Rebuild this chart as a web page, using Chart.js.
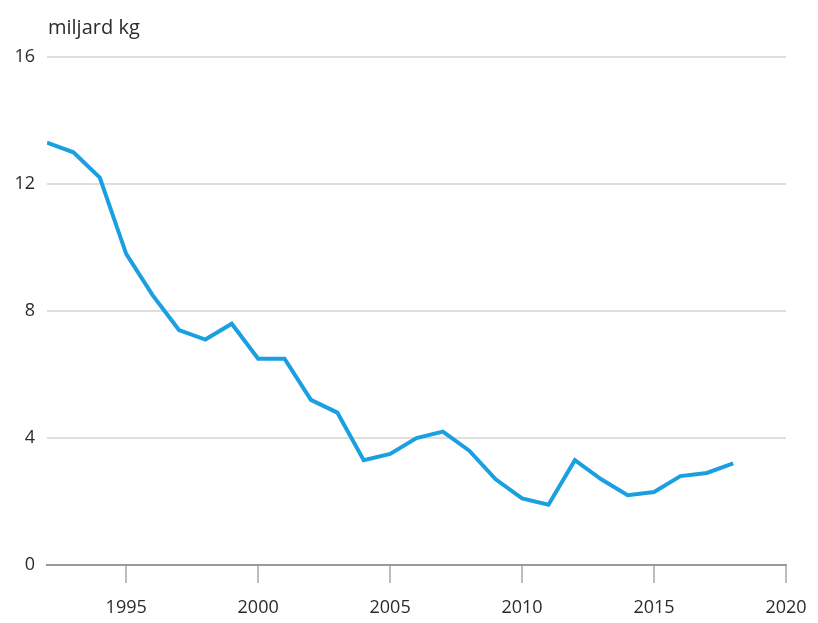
<!DOCTYPE html>
<html>
<head>
<meta charset="utf-8">
<script src="https://cdn.jsdelivr.net/npm/chart.js@4.4.1/dist/chart.umd.min.js"></script>
<style>
  html, body { margin: 0; padding: 0; background: #fff; }
  #wrap { width: 818px; height: 623px; }
</style>
</head>
<body>
<div id="wrap"><canvas id="chart"></canvas></div>
<script>
// --- DATA ---
const years = [1992, 1993, 1994, 1995, 1996, 1997, 1998, 1999, 2000, 2001, 2002, 2003, 2004,
               2005, 2006, 2007, 2008, 2009, 2010, 2011, 2012, 2013, 2014, 2015, 2016, 2017, 2018];
const values = [13.3, 13.0, 12.2, 9.8, 8.5, 7.4, 7.1, 7.6, 6.5, 6.5, 5.2, 4.8, 3.3,
                3.5, 4.0, 4.2, 3.6, 2.7, 2.1, 1.9, 3.3, 2.7, 2.2, 2.3, 2.8, 2.9, 3.2];
const xTicks = [1995, 2000, 2005, 2010, 2015, 2020];
const yTicks = [0, 4, 8, 12, 16];
const unitLabel = 'miljard kg';

const FONT = '"Open Sans", "Noto Sans", sans-serif';
const TEXT = '#2b2b2b';

// draws the unit label above the plot, aligned with the plot's left edge
const unitPlugin = {
    id: 'unitLabel',
    afterDraw(chart) {
        const { ctx, chartArea } = chart;
        ctx.save();
        ctx.font = '20px ' + FONT;
        ctx.fillStyle = TEXT;
        ctx.textBaseline = 'alphabetic';
        ctx.textAlign = 'left';
        ctx.fillText(unitLabel, chartArea.left + 1, 34);
        ctx.restore();
    }
};

new Chart(document.getElementById('chart'), {
    type: 'line',
    data: {
        datasets: [{
            data: years.map((y, i) => ({ x: y, y: values[i] })),
            borderColor: '#1aa0e0',
            borderWidth: 4,
            pointRadius: 0,
            tension: 0,
            fill: false
        }]
    },
    options: {
        responsive: true,
        maintainAspectRatio: false,
        animation: false,
        layout: { padding: { top: 57, right: 32, left: 0, bottom: 0 } },
        plugins: { legend: { display: false }, tooltip: { enabled: false } },
        scales: {
            x: {
                type: 'linear',
                min: 1992,
                max: 2020,
                afterBuildTicks: scale => { scale.ticks = xTicks.map(v => ({ value: v })); },
                afterFit: scale => { scale.height = 58; scale.paddingRight = 0; scale.paddingLeft = 0; },
                grid: {
                    drawOnChartArea: false,
                    drawTicks: true,
                    tickLength: 18,
                    color: '#bdbdbd',
                    lineWidth: 2
                },
                border: { display: true, color: '#9a9a9a', width: 2 },
                ticks: {
                    color: TEXT,
                    font: { family: FONT, size: 18 },
                    padding: 14,
                    maxRotation: 0,
                    callback: v => String(v)
                }
            },
            y: {
                min: 0,
                max: 16,
                afterBuildTicks: scale => { scale.ticks = yTicks.map(v => ({ value: v })); },
                afterFit: scale => { scale.width = 47; },
                grid: {
                    drawTicks: false,
                    color: ctx => ctx.tick && ctx.tick.value === 0 ? '#9a9a9a' : '#dedede',
                    lineWidth: 2
                },
                border: { display: false },
                ticks: {
                    color: TEXT,
                    font: { family: FONT, size: 18 },
                    padding: 12
                }
            }
        }
    },
    plugins: [unitPlugin]
});
</script>
</body>
</html>
